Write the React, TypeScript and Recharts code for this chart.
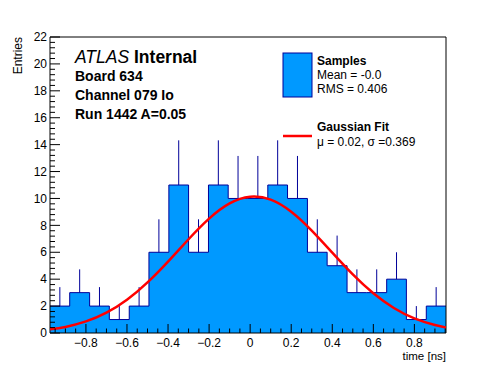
import React from 'react';
import { ComposedChart, Area, Line, Scatter, ErrorBar, XAxis, YAxis, ReferenceArea } from 'recharts';

// histogram: 20 bins, left edges + last right edge
const binEdges = [-0.975, -0.879, -0.782, -0.686, -0.589, -0.493, -0.396, -0.3, -0.203, -0.107, -0.011, 0.086, 0.182, 0.279, 0.375, 0.472, 0.568, 0.665, 0.761, 0.858, 0.954];
const counts = [2, 3, 2, 1, 2, 6, 11, 6, 11, 10, 10, 11, 10, 6, 5, 3, 3, 4, 1, 2];
const countErrors = [1.41, 1.73, 1.41, 1, 1.41, 2.45, 3.32, 2.45, 3.32, 3.16, 3.16, 3.32, 3.16, 2.45, 2.24, 1.73, 1.73, 2, 1, 1.41];

// gaussian fit curve
const fitX = [-0.975, -0.9, -0.8, -0.7, -0.6, -0.5, -0.4, -0.3, -0.2, -0.1, 0, 0.1, 0.2, 0.3, 0.4, 0.5, 0.6, 0.7, 0.8, 0.9, 0.954];
const fitY = [0.27, 0.45, 0.86, 1.51, 2.47, 3.76, 5.31, 6.97, 8.5, 9.63, 10.13, 9.91, 9.01, 7.61, 5.97, 4.35, 2.95, 1.86, 1.09, 0.59, 0.41];

const xDomain = [-0.975, 0.954];
const yDomain = [0, 22];
const xTicks = Array.from({ length: 39 }, (_, i) => Math.round((-0.95 + i * 0.05) * 100) / 100);
const yTicks = Array.from({ length: 56 }, (_, i) => Math.round(i * 4) / 10);

const histData = binEdges.map((x, i) => ({ x, n: counts[Math.min(i, counts.length - 1)] }));
const errData = counts.map((n, i) => ({ x: (binEdges[i] + binEdges[i + 1]) / 2, n, err: [0, countErrors[i]] }));
const fitData = fitX.map((x, i) => ({ x, y: fitY[i] }));

const FONT = '"Liberation Sans", Arial, Helvetica, sans-serif';
const FILL = '#0099ff';
const EDGE = '#000099';

const XTick = (props: any) => {
  const { x, y, payload } = props;
  const v = payload.value;
  const major = Math.round(v * 100) % 20 === 0;
  const label = v < 0 ? '\u2212' + Math.abs(v) : String(v);
  return (
    <g>
      <line x1={x} x2={x} y1={y} y2={y - (major ? 9 : 4.5)} stroke="#000" />
      {major && (
        <text x={x} y={y + 14} textAnchor="middle" fontSize={12} fontFamily={FONT} fill="#000">
          {label}
        </text>
      )}
    </g>
  );
};

const YTick = (props: any) => {
  const { x, y, payload } = props;
  const v = payload.value;
  const major = Math.round(v * 10) % 20 === 0;
  return (
    <g>
      <line x1={x} x2={x + (major ? 10 : 5)} y1={y} y2={y} stroke="#000" />
      {major && (
        <text x={x - 3} y={y + 4.2} textAnchor="end" fontSize={12} fontFamily={FONT} fill="#000">
          {v}
        </text>
      )}
    </g>
  );
};

export default function App() {
  return (
    <div style={{ position: 'absolute', left: 0, top: 0, width: 496, height: 372, background: '#fff' }}>
      <ComposedChart width={496} height={372} margin={{ top: 37, right: 50, bottom: 9, left: 10 }}>
        <XAxis
          dataKey="x"
          type="number"
          domain={xDomain}
          allowDataOverflow
          ticks={xTicks}
          interval={0}
          tick={XTick}
          tickLine={false}
          axisLine={false}
          tickSize={0}
          tickMargin={0}
          height={30}
        />
        <YAxis
          type="number"
          domain={yDomain}
          allowDataOverflow
          ticks={yTicks}
          interval={0}
          tick={YTick}
          tickLine={false}
          axisLine={false}
          tickSize={0}
          tickMargin={0}
          width={40}
        />
        <Area
          data={histData}
          dataKey="n"
          type="stepAfter"
          stroke={EDGE}
          strokeWidth={1}
          fill={FILL}
          fillOpacity={1}
          dot={false}
          activeDot={false}
          isAnimationActive={false}
        />
        <Scatter data={errData} dataKey="n" shape={() => <g />} isAnimationActive={false}>
          <ErrorBar dataKey="err" direction="y" width={0} stroke={EDGE} strokeWidth={1} />
        </Scatter>
        <Line
          data={fitData}
          dataKey="y"
          type="natural"
          stroke="#ff0000"
          strokeWidth={2.5}
          dot={false}
          activeDot={false}
          isAnimationActive={false}
        />
        <ReferenceArea x1={xDomain[0]} x2={xDomain[1]} y1={0} y2={22} fill="none" stroke="#000" strokeWidth={1} />
      </ComposedChart>
      <svg width={496} height={372} style={{ position: 'absolute', left: 0, top: 0, pointerEvents: 'none' }} fontFamily={FONT}>
        <text x={22} y={37} transform="rotate(-90 22 37)" textAnchor="end" fontSize={12}>
          Entries
        </text>
        <text x={446} y={360} textAnchor="end" fontSize={11.5}>
          time [ns]
        </text>
        <text x={75} y={63} fontSize={17.5}>
          <tspan fontStyle="italic">ATLAS</tspan>
          <tspan fontWeight="bold"> Internal</tspan>
        </text>
        <text x={75} y={81} fontSize={14} fontWeight="bold">Board 634</text>
        <text x={75} y={100} fontSize={14} fontWeight="bold">Channel 079 Io</text>
        <text x={75} y={119} fontSize={14} fontWeight="bold">Run 1442 A=0.05</text>

        <rect x={283} y={53} width={29} height={44} fill={FILL} stroke={EDGE} strokeWidth={1} />
        <text x={317} y={65} fontSize={12} fontWeight="bold">Samples</text>
        <text x={317} y={79} fontSize={12}>Mean = -0.0</text>
        <text x={317} y={93} fontSize={12}>RMS = 0.406</text>

        <line x1={283} x2={312} y1={136} y2={136} stroke="#ff0000" strokeWidth={2.5} />
        <text x={317} y={131} fontSize={12} fontWeight="bold">Gaussian Fit</text>
        <text x={317} y={146} fontSize={12}>μ = 0.02, σ =0.369</text>
      </svg>
    </div>
  );
}
